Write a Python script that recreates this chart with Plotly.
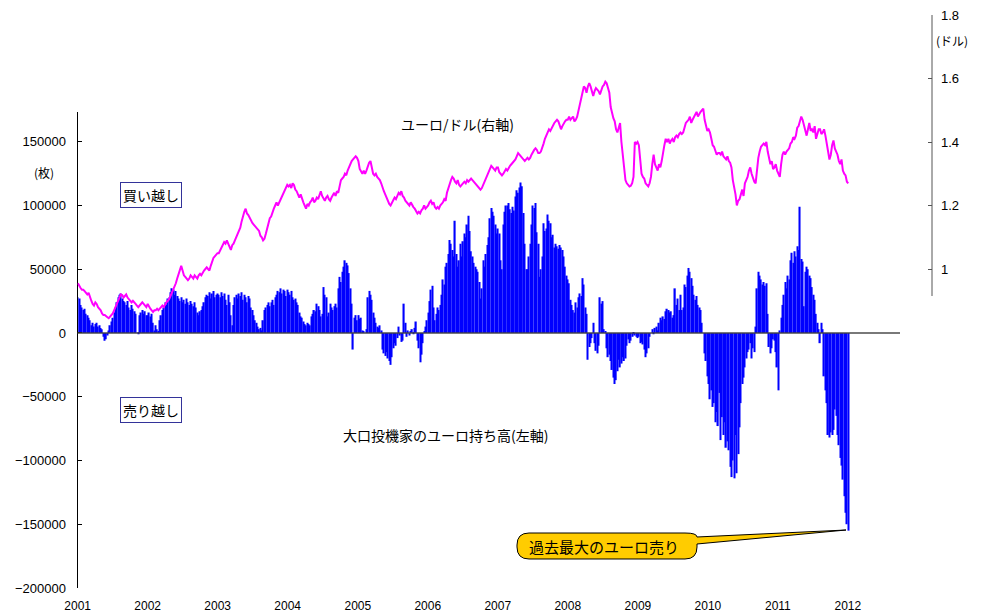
import pandas as pd
import plotly.graph_objects as go

# ---- Speculators' net euro positions (thousand contracts), weekly ----
pos_2001 = [28, 27, 22, 20, 18, 19, 15, 14, 12, 10, 6, 8, 5, 7, 8, 5, 6, 4, 3, -3,
            -6, -5, -2, 2, 6, 9, 12, 16, 20, 24, 28, 30, 31, 27, 25, 24, 22, 25, 20, 18,
            22, 19, 17, 15, 0, -1, 14, 16, 18, 15, 17, 14]
pos_2002 = [14, 16, 13, 15, 8, 2, 6, 3, 1, 10, 14, 18, 20, 24, 22, 27, 28,
            32, 35, 34, 30, 33, 29, 27, 25, 28, 24, 26, 23, 27, 24, 22, 25, 23, 21, 24, 20,
            16, 14, 17, 18, 21, 24, 28, 30, 29, 32, 27, 31, 33, 28, 30, 31]
pos_2003 = [30, 28, 32, 29, 31, 26, 22, 30, 24, 14, 6, 22, 28, 30, 27, 31, 29, 32, 26, 30,
            28, 24, 29, 27, 20, 18, 14, 10, 8, 5, 3, 4, 2, 10, 18, 20, 22, 24, 21,
            24, 26, 22, 28, 30, 33, 32, 35, 31, 34, 33, 29, 34]
pos_2004 = [32, 30, 33, 28, 26, 27, 24, 22, 16, 13, 12, 9, 7, 6, 8, 7, 6, 13, 15, 18, 17,
            23, 21, 18, 13, 15, 36, 30, 28, 13, 16, 23, 20, 18, 21, 23, 20, 35, 44, 40,
            48, 52, 57, 55, 53, 47, 35, 23, -13, 12, 14, 10]
pos_2005 = [14, 11, 12, 2, 1, 0, 3, 28, 33, 30, 26, 16, 12, 8, 5, 4, 6, 2,
            -13, -16, -18, -15, -20, -22, -25, -19, -12, -8, -10, -4, 5, -2, -7, -6, 23,
            8, -3, 2, -2, 1, 3, -1, 4, 9, -6, -12, -23, -17, -8, 1, 5, 10]
pos_2006 = [16, 25, 34, 37, 20, 10, 15, 20, 18, 22, 30, 42, 38, 52, 55, 62, 73, 70, 65, 60,
            88, 62, 52, 57, 70, 60, 72, 78, 75, 85, 92, 80, 64, 60, 55, 52, 50, 48, 40,
            27, 35, 57, 52, 62, 69, 75, 90, 98, 95, 92, 85, 78]
pos_2007 = [82, 78, 57, 50, 85, 95, 100, 100, 102, 97, 94, 99, 96, 107, 112, 110, 114, 118,
            115, 94, 70, 50, 50, 60, 70, 85, 100, 98, 102, 79, 70, 44, 50, 60, 86, 80, 82,
            93, 88, 86, 75, 77, 67, 70, 68, 66, 69, 67, 65, 60, 52, 45]
pos_2008 = [42, 39, 26, 22, 18, 16, 24, 20, 28, 31, 29, 43, 38, 20, 15, -21, -11, -8, -4, 8,
            -8, -14, -16, -10, 28, 23, 25, 3, 1, -12, -19, -17, -22, -29, -35, -40, -37,
            -30, -21, -27, -24, -19, -22, -20, -10, -5, -8, -6, -3, -1, -2, -3, -4]
pos_2009 = [-3, -8, -7, -9, -13, -19, -16, -12, -3, 0, 3, -1, 4, 5, 2, 8, 12, 10, 13, 11,
            17, 19, 18, 16, 17, 12, 14, 35, 22, 27, 18, 30, 18, 20, 38, 36, 45, 51, 48,
            43, 37, 30, 26, 29, 22, 20, 18, 8, 0, -16, -22, -34]
pos_2010 = [-40, -52, -45, -58, -55, -70, -62, -73, -47, -84, -66, -80, -70, -90, -85,
            -92, -105, -113, -100, -114, -80, -110, -95, -74, -55, -40, -35, -27, -20, -15,
            -13, -8, -20, -12, -15, 5, 35, 48, 45, 42, 38, 40, 37, 39, 15, -11, -16, -12,
            -5, -6, -15, -27]
pos_2011 = [-45, 2, 12, 22, 30, 40, 35, 45, 42, 57, 63, 55, 64, 60, 68, 65, 99, 58, 56,
            21, 48, 52, 50, 45, 43, 36, 30, 26, 15, 8, 3, -8, 8, 3, -34, -45, -55,
            -80, -82, -78, -80, -76, -60, -65, -80, -88, -98, -104, -115, -128, -141, -150]
pos_2012 = [-155]

# ---- EUR/USD, weekly ----
eur_2001 = [0.955, 0.945, 0.94, 0.935, 0.935, 0.93, 0.925, 0.92, 0.925, 0.91, 0.90, 0.89,
            0.885, 0.895, 0.89, 0.88, 0.875, 0.87, 0.86, 0.855, 0.855, 0.85, 0.848, 0.845,
            0.85, 0.855, 0.86, 0.87, 0.88, 0.89, 0.905, 0.915, 0.92, 0.918, 0.91, 0.915,
            0.92, 0.91, 0.905, 0.90, 0.895, 0.90, 0.893, 0.89, 0.885, 0.88, 0.885, 0.89,
            0.895, 0.89, 0.885, 0.88]
eur_2002 = [0.89, 0.88, 0.875, 0.87, 0.865, 0.87, 0.87, 0.875, 0.87, 0.875, 0.88, 0.885,
            0.88, 0.89, 0.895, 0.90, 0.905, 0.915, 0.925, 0.935, 0.94, 0.955, 0.97, 0.985,
            1.0, 1.01, 0.995, 0.98, 0.975, 0.97, 0.965, 0.97, 0.98, 0.975, 0.97, 0.98,
            0.975, 0.97, 0.98, 0.985, 0.98, 0.99, 0.995, 1.00, 1.005, 1.00, 0.995, 1.01,
            1.025, 1.035, 1.04, 1.045, 1.05]
eur_2003 = [1.05, 1.06, 1.07, 1.08, 1.085, 1.08, 1.09, 1.08, 1.07, 1.06, 1.075, 1.08,
            1.09, 1.10, 1.11, 1.12, 1.13, 1.15, 1.17, 1.18, 1.19, 1.175, 1.17, 1.16,
            1.15, 1.145, 1.14, 1.135, 1.13, 1.125, 1.12, 1.105, 1.10, 1.09, 1.095, 1.11,
            1.125, 1.14, 1.16, 1.165, 1.18, 1.19, 1.20, 1.21, 1.20, 1.21, 1.22, 1.23,
            1.235, 1.245, 1.255, 1.265]
eur_2004 = [1.26, 1.265, 1.255, 1.27, 1.265, 1.25, 1.245, 1.235, 1.225, 1.235, 1.22, 1.21,
            1.20, 1.19, 1.205, 1.20, 1.21, 1.215, 1.225, 1.21, 1.215, 1.225, 1.22, 1.235,
            1.245, 1.23, 1.22, 1.215, 1.225, 1.23, 1.22, 1.215, 1.225, 1.235, 1.24, 1.23,
            1.245, 1.24, 1.265, 1.28, 1.285, 1.29, 1.30, 1.295, 1.31, 1.32, 1.335, 1.34,
            1.345, 1.35, 1.355, 1.35]
eur_2005 = [1.34, 1.315, 1.305, 1.30, 1.31, 1.30, 1.31, 1.325, 1.335, 1.34, 1.32, 1.30,
            1.295, 1.30, 1.29, 1.285, 1.28, 1.27, 1.255, 1.245, 1.235, 1.225, 1.21, 1.205,
            1.20, 1.21, 1.215, 1.225, 1.22, 1.23, 1.24, 1.235, 1.245, 1.23, 1.225, 1.215,
            1.21, 1.205, 1.20, 1.21, 1.20, 1.195, 1.19, 1.18, 1.175, 1.18, 1.175, 1.185,
            1.19, 1.20, 1.19, 1.195]
eur_2006 = [1.20, 1.21, 1.215, 1.205, 1.21, 1.195, 1.19, 1.195, 1.19, 1.20, 1.205, 1.21,
            1.22, 1.215, 1.24, 1.255, 1.265, 1.28, 1.29, 1.285, 1.275, 1.27, 1.28, 1.265,
            1.26, 1.265, 1.27, 1.275, 1.27, 1.28, 1.275, 1.28, 1.285, 1.28, 1.275, 1.27,
            1.265, 1.26, 1.255, 1.25, 1.255, 1.265, 1.275, 1.285, 1.29, 1.30, 1.31, 1.325,
            1.32, 1.315, 1.31, 1.32]
eur_2007 = [1.32, 1.305, 1.30, 1.295, 1.30, 1.31, 1.315, 1.31, 1.32, 1.325, 1.33, 1.335,
            1.34, 1.345, 1.355, 1.365, 1.36, 1.355, 1.35, 1.345, 1.34, 1.345, 1.35, 1.345,
            1.35, 1.36, 1.37, 1.375, 1.38, 1.375, 1.365, 1.365, 1.37, 1.38, 1.395, 1.41,
            1.42, 1.425, 1.44, 1.435, 1.445, 1.45, 1.46, 1.465, 1.47, 1.465, 1.455, 1.44,
            1.45, 1.46, 1.465, 1.47]
eur_2008 = [1.47, 1.48, 1.47, 1.475, 1.48, 1.465, 1.47, 1.48, 1.50, 1.52, 1.545, 1.565,
            1.575, 1.57, 1.555, 1.575, 1.585, 1.575, 1.555, 1.545, 1.56, 1.57, 1.565, 1.56,
            1.55, 1.565, 1.575, 1.58, 1.59, 1.585, 1.57, 1.555, 1.51, 1.49, 1.475, 1.465,
            1.44, 1.43, 1.445, 1.46, 1.40, 1.36, 1.33, 1.28, 1.27, 1.265, 1.26, 1.262,
            1.27, 1.29, 1.40, 1.395, 1.40]
eur_2009 = [1.39, 1.34, 1.30, 1.29, 1.285, 1.27, 1.265, 1.26, 1.27, 1.29, 1.33, 1.36,
            1.33, 1.32, 1.31, 1.33, 1.32, 1.34, 1.37, 1.39, 1.41, 1.40, 1.41, 1.395,
            1.405, 1.41, 1.40, 1.415, 1.42, 1.415, 1.425, 1.43, 1.425, 1.43, 1.445, 1.46,
            1.465, 1.47, 1.48, 1.46, 1.47, 1.48, 1.49, 1.495, 1.48, 1.49, 1.495, 1.50,
            1.505, 1.47, 1.45, 1.435]
eur_2010 = [1.44, 1.43, 1.41, 1.39, 1.385, 1.37, 1.36, 1.365, 1.365, 1.36, 1.37, 1.355,
            1.35, 1.345, 1.355, 1.34, 1.335, 1.32, 1.28, 1.26, 1.235, 1.20, 1.215, 1.22,
            1.24, 1.25, 1.23, 1.27, 1.28, 1.29, 1.31, 1.32, 1.30, 1.285, 1.275, 1.27,
            1.32, 1.35, 1.37, 1.385, 1.39, 1.395, 1.39, 1.40, 1.37, 1.35, 1.33, 1.34,
            1.315, 1.32, 1.33, 1.31]
eur_2011 = [1.30, 1.29, 1.33, 1.36, 1.37, 1.36, 1.37, 1.375, 1.38, 1.395, 1.40, 1.415,
            1.41, 1.42, 1.445, 1.45, 1.465, 1.48, 1.47, 1.45, 1.43, 1.42, 1.44, 1.46,
            1.435, 1.44, 1.43, 1.45, 1.41, 1.425, 1.44, 1.44, 1.425, 1.43, 1.44, 1.42,
            1.40, 1.37, 1.345, 1.36, 1.39, 1.405, 1.38, 1.37, 1.36, 1.34, 1.33, 1.345,
            1.31, 1.30, 1.295, 1.275]
eur_2012 = [1.27]

year_ticks = ["2001", "2002", "2003", "2004", "2005", "2006", "2007", "2008",
              "2009", "2010", "2011", "2012"]
left_ticks = [-200000, -150000, -100000, -50000, 0, 50000, 100000, 150000]
right_ticks = [1.0, 1.2, 1.4, 1.6, 1.8]
right_tick_text = ["1", "1.2", "1.4", "1.6", "1.8"]

positions = [v * 1000 for v in (pos_2001 + pos_2002 + pos_2003 + pos_2004 + pos_2005 +
                                pos_2006 + pos_2007 + pos_2008 + pos_2009 + pos_2010 +
                                pos_2011 + pos_2012)]
eurusd = (eur_2001 + eur_2002 + eur_2003 + eur_2004 + eur_2005 + eur_2006 + eur_2007 +
          eur_2008 + eur_2009 + eur_2010 + eur_2011 + eur_2012)
assert len(positions) == len(eurusd), (len(positions), len(eurusd))
dates = pd.date_range("2001-01-02", periods=len(positions), freq="7D")

W, H = 981, 615


def fx(p):
    return p / W


def fy(p):
    return 1 - p / H


JP = "Noto Sans CJK JP, sans-serif"
NUM = "Liberation Sans, Arial, sans-serif"

fig = go.Figure()
fig.add_trace(go.Bar(x=dates, y=positions, xaxis="x", yaxis="y",
                     marker=dict(color="#0000FF", line=dict(width=0))))
fig.add_trace(go.Scatter(x=dates, y=eurusd, xaxis="x2", yaxis="y2", mode="lines",
                         line=dict(color="#FF00FF", width=2)))

xrange = ["2000-12-31", "2012-09-29"]
xdom = [fx(77.5), fx(900)]

fig.update_layout(
    width=W, height=H,
    margin=dict(l=0, r=0, t=0, b=0, autoexpand=False),
    paper_bgcolor="white", plot_bgcolor="rgba(0,0,0,0)",
    showlegend=False, bargap=0.08,
    font=dict(family=NUM, size=12, color="black"),
    xaxis=dict(domain=xdom, range=xrange, type="date", anchor="y", automargin=False,
               tickvals=[y + "-01-01" for y in year_ticks], ticktext=year_ticks,
               showline=False, ticks="", showgrid=False, zeroline=False,
               tickfont=dict(size=12), ticklabelstandoff=9),
    yaxis=dict(domain=[fy(588), fy(112)], range=[-200000, 173300], anchor="x",
               automargin=False,
               tickvals=left_ticks, tickformat="d", showline=True, linecolor="black",
               linewidth=1, ticks="inside", ticklen=4, tickcolor="black",
               showgrid=False, zeroline=False,
               tickfont=dict(size=13), ticklabelstandoff=8),
    xaxis2=dict(domain=xdom, range=xrange, type="date", anchor="y2", visible=False,
                automargin=False),
    yaxis2=dict(domain=[fy(588), fy(15)], range=[-0.0047, 1.8], anchor="free",
                automargin=False,
                position=fx(932), side="right", tickvals=right_ticks,
                ticktext=right_tick_text, showline=False, ticks="inside", ticklen=4,
                tickcolor="#555555", showgrid=False, zeroline=False,
                tickfont=dict(size=13), ticklabelstandoff=8),
)

# zero line drawn over the bars (grey on white, dark over blue)
fig.add_shape(type="line", xref="x domain", yref="y", x0=0, x1=1, y0=0, y1=0,
              line=dict(color="rgba(64,64,64,0.7)", width=2))

# right axis line (shorter than the plot area)
fig.add_shape(type="line", xref="paper", yref="y2", x0=fx(932), x1=fx(932),
              y0=0.915, y1=1.8, line=dict(color="#555555", width=1))


# callout balloon
def P(x, y):
    return f"{fx(x):.5f},{fy(y):.5f}"


path = ("M " + P(529, 533) + " L " + P(685, 533) + " Q " + P(697, 533) + " " + P(697, 537) +
        " L " + P(846, 530) + " L " + P(697, 544) +
        " L " + P(697, 547) + " Q " + P(697, 559) + " " + P(685, 559) +
        " L " + P(529, 559) + " Q " + P(517, 559) + " " + P(517, 547) +
        " L " + P(517, 545) + " Q " + P(517, 533) + " " + P(529, 533) + " Z")
fig.add_shape(type="path", xref="paper", yref="paper", path=path,
              fillcolor="#FFCC00", line=dict(color="black", width=1))

annos = [
    dict(text="ユーロ/ドル(右軸)", x=457, y=124, size=14),
    dict(text="大口投機家のユーロ持ち高(左軸)", x=445, y=435, size=14),
    dict(text="(枚)", x=44, y=172, size=12),
    dict(text="(ドル)", x=952, y=40, size=12),
    dict(text="過去最大のユーロ売り", x=604, y=546, size=15),
]
for a in annos:
    fig.add_annotation(text=a["text"], xref="paper", yref="paper", x=fx(a["x"]),
                       y=fy(a["y"]), showarrow=False, xanchor="center", yanchor="middle",
                       font=dict(family=JP, size=a["size"], color="black"))

for txt, yy in [("買い越し", 195), ("売り越し", 410)]:
    fig.add_annotation(text=txt, xref="paper", yref="paper", x=fx(151), y=fy(yy),
                       showarrow=False, xanchor="center", yanchor="middle",
                       font=dict(family=JP, size=14, color="black"),
                       bgcolor="white", bordercolor="#333399", borderwidth=1, borderpad=2)

fig.write_html("out.html", config={"displayModeBar": False},
               post_script="document.body.style.margin='0';"
                           "document.body.style.overflow='hidden';")
